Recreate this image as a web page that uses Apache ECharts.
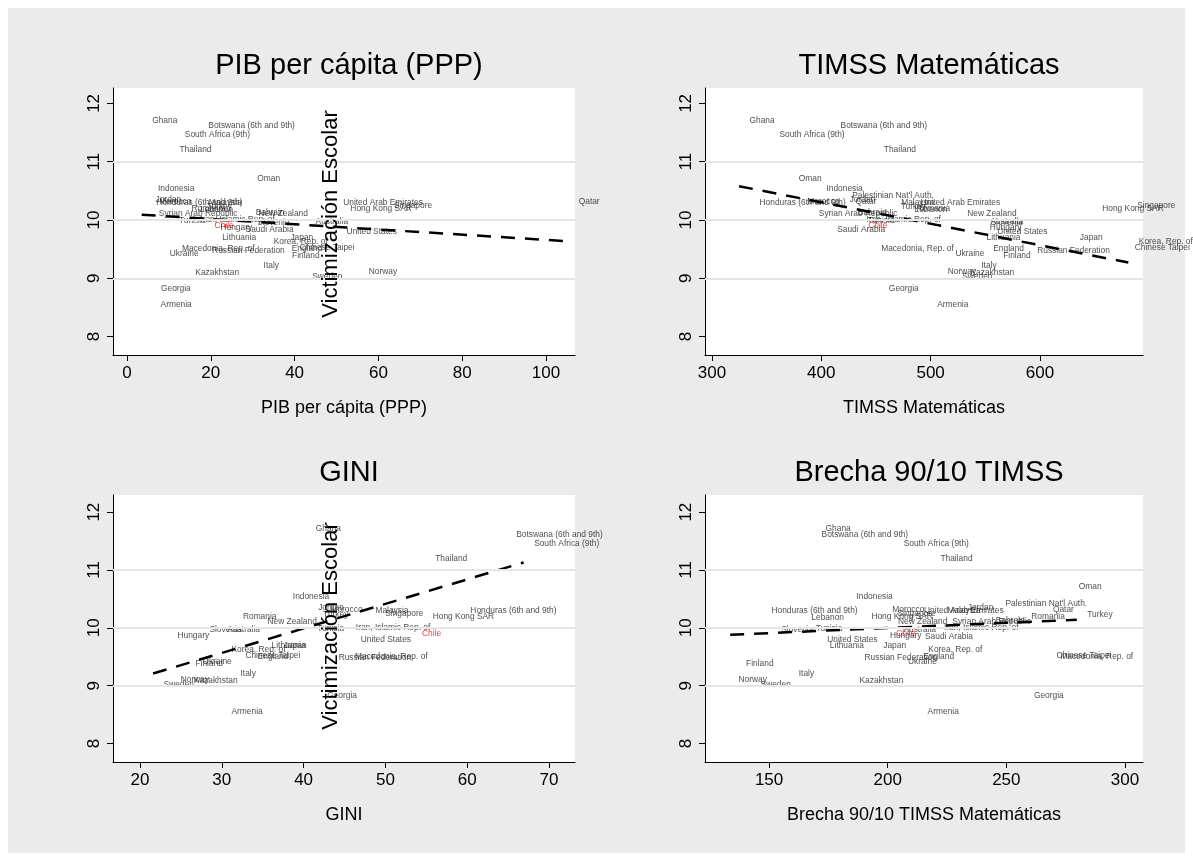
<!DOCTYPE html>
<html><head><meta charset="utf-8">
<script src="https://cdn.jsdelivr.net/npm/echarts@6/dist/echarts.min.js"></script>
<style>html,body{margin:0;padding:0;background:#fff}#c{width:1193px;height:861px}</style>
</head><body><div id="c"></div>
<script>
const countries = ["Ghana","Botswana (6th and 9th)","South Africa (9th)","Thailand","Oman","Indonesia","Palestinian Nat'l Auth.","Jordan","Honduras (6th and 9th)","Morocco","Qatar","Malaysia","United Arab Emirates","Lebanon","Romania","Hong Kong SAR","Singapore","Turkey","Syrian Arab Republic","Bahrain","New Zealand","Iran, Islamic Rep. of","Tunisia","Slovenia","Australia","Chile","Hungary","Saudi Arabia","United States","Lithuania","Japan","Korea, Rep. of","Chinese Taipei","England","Macedonia, Rep. of","Russian Federation","Ukraine","Finland","Italy","Norway","Kazakhstan","Sweden","Georgia","Armenia"];
const victimizacion = [11.71,11.61,11.46,11.20,10.71,10.54,10.41,10.35,10.30,10.31,10.31,10.30,10.29,10.18,10.20,10.19,10.24,10.23,10.10,10.13,10.10,10.00,9.98,9.96,9.97,9.90,9.87,9.84,9.80,9.70,9.70,9.62,9.52,9.50,9.50,9.48,9.42,9.38,9.21,9.11,9.09,9.02,8.83,8.55];
const pibPerCapita = [3.5,16.9,11.3,10.0,28.6,4.9,null,4.3,4.5,5.2,105.3,17.0,49.1,15.0,12.9,50.8,61.2,16.5,5.1,28.2,28.9,15.0,9.9,28.6,42.5,18.4,19.8,25.8,49.9,20.2,36.5,32.5,38.7,36.8,10.6,17.8,7.7,36.9,30.1,55.2,13.8,41.7,5.6,5.5];
const timssMat = [324.7,408.0,352.1,447.6,369.8,395.1,418.7,416.2,333.9,377.5,421.7,463.5,481.2,475.7,477.5,647.4,679.4,463.0,388.1,423.8,523.9,431.7,433.0,545.2,545.2,433.3,544.6,404.9,551.3,541.5,626.9,680.9,677.2,547.7,445.2,587.9,513.2,556.8,536.7,506.1,526.9,519.3,452.2,496.4];
const gini = [40.2,64.7,66.9,54.8,null,37.4,null,40.5,59.1,42.0,null,47.5,null,null,31.3,54.5,48.7,41.1,null,null,34.3,45.1,40.4,27.2,29.4,53.2,23.3,null,45.7,34.8,36.3,29.9,31.6,33.1,45.0,43.0,26.4,25.5,31.0,23.7,25.3,21.6,41.6,29.9];
const brecha9010 = [169.4,167.7,202.3,217.8,276.1,182.4,245.2,229.3,146.6,197.5,265.2,220.7,210.9,163.4,256.1,188.7,199.7,279.7,222.8,241.1,199.9,219.3,165.2,150.7,202.2,199.2,196.5,211.3,170.1,171.2,193.7,212.7,266.7,210.6,268.4,185.8,204.1,135.9,158.1,132.7,183.7,142.0,257.2,212.4];

const fitPibX = [3.5,105.3], fitPibY = [10.09,9.635];
const fitTimssX = [324.7,680.9], fitTimssY = [10.58,9.27];
const fitGiniX = [21.6,66.9], fitGiniY = [9.21,11.13];
const fitBrechaX = [133.6,279.7], fitBrechaY = [9.88,10.14];

const yTicks = [8,9,10,11,12];
const yGridLines = [9,10,11];
const pibTicks = [0,20,40,60,80,100];
const timssTicks = [300,400,500,600];
const giniTicks = [20,30,40,50,60,70];
const brechaTicks = [150,200,250,300];

const titles = ["PIB per cápita (PPP)","TIMSS Matemáticas","GINI","Brecha 90/10 TIMSS"];
const xNames = ["PIB per cápita (PPP)","TIMSS Matemáticas","GINI","Brecha 90/10 TIMSS Matemáticas"];
const yTitle = "Victimización Escolar";

const FONT = "'Liberation Sans', Arial, Helvetica, sans-serif";
const panels = [
  {xs: pibPerCapita, fx: fitPibX, fy: fitPibY, ticks: pibTicks, grid:{left:113,top:88,width:462,height:267}, xmin:-3.34, xmax:106.92, ymin:7.684, ymax:12.264},
  {xs: timssMat, fx: fitTimssX, fy: fitTimssY, ticks: timssTicks, grid:{left:705,top:88,width:438,height:267}, xmin:293.6, xmax:694.3, ymin:7.684, ymax:12.264},
  {xs: gini, fx: fitGiniX, fy: fitGiniY, ticks: giniTicks, grid:{left:113,top:495,width:462,height:267}, xmin:16.70, xmax:73.18, ymin:7.681, ymax:12.296},
  {xs: brecha9010, fx: fitBrechaX, fy: fitBrechaY, ticks: brechaTicks, grid:{left:705,top:495,width:438,height:267}, xmin:123.0, xmax:307.6, ymin:7.681, ymax:12.296}
];

const grids = [], xAxes = [], yAxes = [], series = [], titleOpts = [];
panels.forEach((p, i) => {
  grids.push(Object.assign({show:true, backgroundColor:'#ffffff', borderWidth:0, containLabel:false}, p.grid));
  titleOpts.push({text: titles[i], left: p.grid.left + p.grid.width/2, top: p.grid.top - 42, textAlign:'center',
    textStyle:{fontSize:29, fontWeight:'normal', color:'#000', fontFamily:FONT}});
  xAxes.push({type:'value', gridIndex:i, min:p.xmin, max:p.xmax,
    axisLine:{show:true, onZero:false, lineStyle:{color:'#000', width:1}},
    axisTick:{show:true, customValues:p.ticks, length:6, lineStyle:{color:'#000'}},
    axisLabel:{customValues:p.ticks, fontSize:17, color:'#000', fontFamily:FONT, margin:10},
    splitLine:{show:false},
    name:xNames[i], nameLocation:'middle', nameGap:44, nameTextStyle:{fontSize:18, color:'#000', fontFamily:FONT}});
  yAxes.push({type:'value', gridIndex:i, min:p.ymin, max:p.ymax,
    axisLine:{show:true, onZero:false, lineStyle:{color:'#000', width:1}},
    axisTick:{show:true, customValues:yTicks, length:6, lineStyle:{color:'#000'}},
    axisLabel:{customValues:yTicks, rotate:90, fontSize:17, color:'#000', fontFamily:FONT, margin:10},
    splitLine:{show:false}});
  series.push({type:'line', xAxisIndex:i, yAxisIndex:i, data:[], silent:true, z:1,
    markLine:{silent:true, symbol:['none','none'], label:{show:false}, animation:false,
      lineStyle:{color:'#e6e6e6', width:2, type:'solid'}, data: yGridLines.map(v => ({yAxis:v}))}});
  const pts = [];
  countries.forEach((c, k) => {
    if (p.xs[k] == null) return;
    const item = {value:[p.xs[k], victimizacion[k], c]};
    if (c === 'Chile') item.label = {color:'#ff0000'};
    pts.push(item);
  });
  series.push({type:'scatter', xAxisIndex:i, yAxisIndex:i, data:pts, symbolSize:1, clip:false, z:3,
    itemStyle:{color:'rgba(0,0,0,0)'}, silent:true,
    label:{show:true, position:'right', distance:10, formatter: q => q.data.value[2],
      fontSize:8.4, color:'#1a1a1a', fontFamily:FONT}});
  series.push({type:'line', xAxisIndex:i, yAxisIndex:i, data: p.fx.map((x, k) => [x, p.fy[k]]),
    symbol:'none', silent:true, z:4, lineStyle:{color:'#000', width:2.5, type:[14,10]}});
});

const chart = echarts.init(document.getElementById('c'), null, {renderer:'canvas'});
chart.setOption({
  animation:false,
  backgroundColor:'#ffffff',
  graphic:[
    {type:'rect', z:-10, shape:{x:8, y:8, width:1177, height:845}, style:{fill:'#ebebeb'}},
    {type:'text', z:100, x:331, y:214, rotation:Math.PI/2, style:{text:yTitle, fontSize:22, fontFamily:FONT, fill:'#000', textAlign:'center', textVerticalAlign:'middle', align:'center', verticalAlign:'middle'}},
    {type:'text', z:100, x:331, y:626, rotation:Math.PI/2, style:{text:yTitle, fontSize:22, fontFamily:FONT, fill:'#000', textAlign:'center', textVerticalAlign:'middle', align:'center', verticalAlign:'middle'}}
  ],
  title: titleOpts,
  grid: grids, xAxis: xAxes, yAxis: yAxes, series: series
});
</script></body></html>
